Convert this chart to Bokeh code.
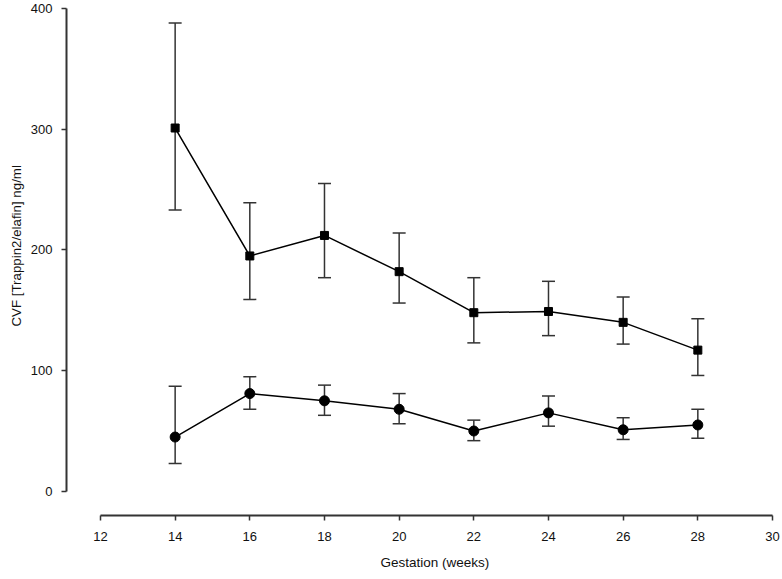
from bokeh.plotting import figure
from bokeh.models import Range1d, ColumnDataSource, Whisker, TeeHead, Title, FixedTicker
from bokeh.embed import file_html
from bokeh.resources import INLINE

weeks = [14, 16, 18, 20, 22, 24, 26, 28]
trappin_mean = [301, 195, 212, 182, 148, 149, 140, 117]
trappin_upper = [388, 239, 255, 214, 177, 174, 161, 143]
trappin_lower = [233, 159, 177, 156, 123, 129, 122, 96]
elafin_mean = [45, 81, 75, 68, 50, 65, 51, 55]
elafin_upper = [87, 95, 88, 81, 59, 79, 61, 68]
elafin_lower = [23, 68, 63, 56, 42, 54, 43, 44]
x_ticks = [12, 14, 16, 18, 20, 22, 24, 26, 28, 30]
y_ticks = [0, 100, 200, 300, 400]

FONT = "Liberation Sans"

p = figure(width=782, height=579, output_backend="svg", toolbar_location=None,
           x_range=Range1d(11.09, 30), y_range=Range1d(-20, 400),
           min_border_left=66, min_border_right=10, min_border_top=8, min_border_bottom=63)
p.outline_line_color = None
p.xgrid.visible = False
p.ygrid.visible = False
p.background_fill_color = "white"
p.border_fill_color = "white"

for ax in (p.xaxis[0], p.yaxis[0]):
    ax.axis_line_color = "#333333"
    ax.axis_line_width = 2
    ax.major_tick_line_color = "#333333"
    ax.major_tick_line_width = 1.5
    ax.major_tick_out = 5
    ax.major_tick_in = 0
    ax.minor_tick_line_color = None
    ax.major_label_text_font = FONT
    ax.major_label_text_font_size = "13px"
    ax.major_label_text_color = "#111111"

p.xaxis[0].ticker = FixedTicker(ticks=x_ticks)
p.yaxis[0].ticker = FixedTicker(ticks=y_ticks)
p.xaxis[0].bounds = (12, 30)
p.yaxis[0].bounds = (0, 400)
p.xaxis[0].major_label_standoff = 11
p.yaxis[0].major_label_standoff = 9

src_t = ColumnDataSource(dict(x=weeks, y=trappin_mean, up=trappin_upper, lo=trappin_lower))
src_e = ColumnDataSource(dict(x=weeks, y=elafin_mean, up=elafin_upper, lo=elafin_lower))

for src in (src_t, src_e):
    w = Whisker(source=src, base="x", upper="up", lower="lo",
                line_color="#333333", line_width=1.5,
                upper_head=TeeHead(size=13, line_color="#333333", line_width=1.5),
                lower_head=TeeHead(size=13, line_color="#333333", line_width=1.5))
    p.add_layout(w)

p.line("x", "y", source=src_t, line_color="black", line_width=1.5)
p.scatter("x", "y", source=src_t, marker="square", size=8, fill_color="black", line_color="black")
p.line("x", "y", source=src_e, line_color="black", line_width=1.5)
p.scatter("x", "y", source=src_e, marker="circle", size=10, fill_color="black", line_color="black")

p.add_layout(Title(text="Gestation (weeks)", align="left", offset=314, standoff=19,
                   text_font=FONT, text_font_size="13.5px", text_font_style="normal",
                   text_color="#111111"), "below")
p.add_layout(Title(text="CVF [Trappin2/elafin] ng/ml", align="left", offset=189, standoff=8,
                   text_font=FONT, text_font_size="13.3px", text_font_style="normal",
                   text_color="#111111"), "left")

open("out.html", "w").write(file_html(p, INLINE))
